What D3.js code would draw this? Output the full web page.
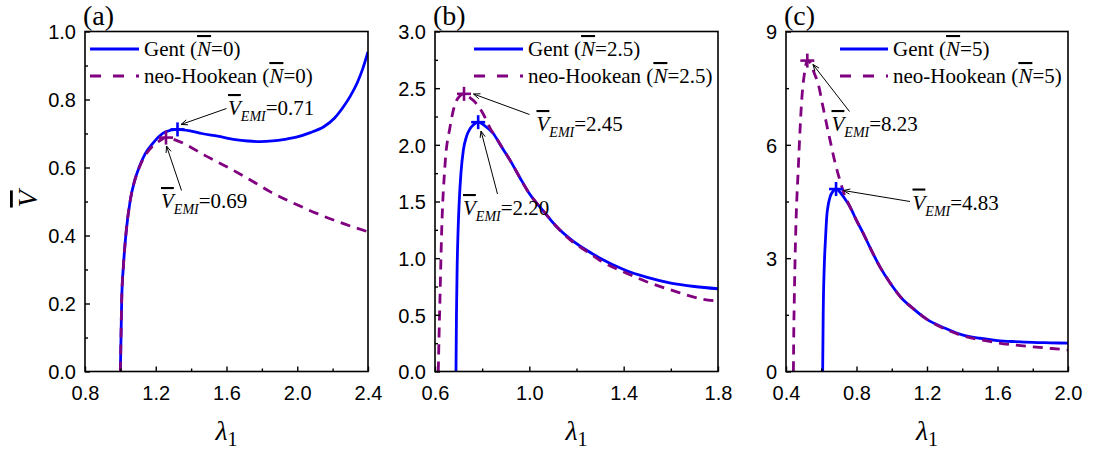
<!DOCTYPE html>
<html><head><meta charset="utf-8">
<script src="https://cdn.jsdelivr.net/npm/d3@7"></script>
<style>body{margin:0;background:#fff}svg{display:block}
.serif{font-family:"Liberation Serif","Times New Roman",Times,"DejaVu Serif","Noto Serif",serif;}
.sans{font-family:"Liberation Sans",Arial,Helvetica,sans-serif;}
</style>
</head><body>
<svg id="chart" width="1093" height="453"></svg>
<script>
// ---------- data ----------
// Panel (a)  N=0
const lamA_gent = [1.0,1.004,1.0075,1.017,1.032,1.056,1.08,1.107,1.14,1.182,1.22,1.257,1.323,1.40,1.46,1.55,1.65,1.72,1.79,1.86,1.93,2.0,2.07,2.15,2.21,2.26,2.30,2.34,2.37,2.40];
const vA_gent   = [0,0.113,0.211,0.309,0.407,0.504,0.56,0.602,0.64,0.670,0.692,0.705,0.712,0.707,0.700,0.692,0.682,0.678,0.676,0.678,0.683,0.690,0.702,0.72,0.745,0.778,0.81,0.85,0.89,0.94];
const lamA_nh   = [1.0,1.004,1.0075,1.017,1.032,1.056,1.08,1.107,1.14,1.18,1.22,1.258,1.30,1.361,1.48,1.62,1.752,1.846,1.98,2.11,2.25,2.40];
const vA_nh     = [0,0.113,0.211,0.309,0.407,0.504,0.56,0.60,0.635,0.662,0.678,0.688,0.683,0.670,0.635,0.597,0.558,0.529,0.495,0.465,0.437,0.411];
// Panel (b)  N=2.5
const lamB_gent = [0.689,0.691,0.694,0.698,0.703,0.71,0.72,0.733,0.748,0.765,0.783,0.81,0.847,0.88,0.918,0.96,1.0,1.066,1.115,1.18,1.243,1.30,1.40,1.50,1.60,1.70,1.80];
const vB_gent   = [0,0.5,0.93,1.25,1.51,1.75,1.95,2.07,2.14,2.18,2.20,2.17,2.10,1.99,1.865,1.71,1.57,1.40,1.28,1.16,1.07,1.00,0.90,0.83,0.78,0.75,0.73];
const lamB_nh   = [0.614,0.617,0.621,0.628,0.642,0.664,0.685,0.705,0.723,0.745,0.777,0.805,0.833,0.86,0.918,1.0,1.066,1.115,1.18,1.243,1.30,1.412,1.50,1.60,1.737,1.80];
const vB_nh     = [0,0.3,0.633,1.22,1.81,2.16,2.36,2.43,2.45,2.42,2.36,2.27,2.15,2.06,1.865,1.57,1.40,1.28,1.15,1.06,0.98,0.868,0.79,0.72,0.638,0.62];
// Panel (c)  N=5
const lamC_gent = [0.608,0.611,0.617,0.624,0.631,0.64,0.65,0.665,0.684,0.70,0.73,0.763,0.80,0.839,0.88,0.933,0.99,1.066,1.10,1.20,1.30,1.40,1.50,1.60,1.70,1.80,1.90,2.0];
const vC_gent   = [0,1.5,2.77,3.5,4.09,4.42,4.62,4.76,4.83,4.78,4.6,4.36,4.0,3.65,3.25,2.77,2.35,1.89,1.75,1.38,1.15,0.97,0.88,0.82,0.79,0.77,0.76,0.75];
const lamC_nh   = [0.442,0.444,0.447,0.455,0.47,0.489,0.505,0.521,0.54,0.56,0.583,0.61,0.65,0.68,0.706,0.73,0.763,0.80,0.839,0.88,0.933,0.99,1.066,1.10,1.20,1.30,1.40,1.50,1.60,1.70,1.784,1.88,1.955,2.0];
const vC_nh     = [0,1.0,1.89,3.65,5.41,7.17,7.9,8.23,8.15,7.9,7.61,7.0,6.12,5.5,5.06,4.7,4.36,4.0,3.65,3.25,2.77,2.35,1.89,1.75,1.38,1.13,0.95,0.84,0.76,0.70,0.66,0.62,0.59,0.57];

const peaksA = [{lam:1.323, v:0.712, s:"gent"},{lam:1.258, v:0.688, s:"nh"}];
const peaksB = [{lam:0.783, v:2.20, s:"gent"},{lam:0.723, v:2.45, s:"nh"}];
const peaksC = [{lam:0.684, v:4.83, s:"gent"},{lam:0.521, v:8.23, s:"nh"}];
const annLabelsA = ["0.71","0.69"], annLabelsB = ["2.20","2.45"], annLabelsC = ["4.83","8.23"];

const nLabels = ["0","2.5","5"];
const panelLetters = ["(a)","(b)","(c)"];
const xTicksA = [0.8,1.2,1.6,2.0,2.4], xMinorA=[1.0,1.4,1.8,2.2];
const yTicksA = [0,0.2,0.4,0.6,0.8,1.0], yMinorA=[0.1,0.3,0.5,0.7,0.9];
const xTicksB = [0.6,1.0,1.4,1.8], xMinorB=[0.8,1.2,1.6];
const yTicksB = [0,0.5,1.0,1.5,2.0,2.5,3.0], yMinorB=[0.25,0.75,1.25,1.75,2.25,2.75];
const xTicksC = [0.4,0.8,1.2,1.6,2.0], xMinorC=[0.6,1.0,1.4,1.8];
const yTicksC = [0,3,6,9], yMinorC=[1.5,4.5,7.5];

// ---------- layout ----------
const BLUE="#0000ff", PURPLE="#800080";
const TOP=31.5, BOTTOM=371.5;
const panels = [
 {x0:85, x1:368, xd:[0.8,2.4], yd:[0,1.0], xt:xTicksA, xm:xMinorA, yt:yTicksA, ym:yMinorA, yf:d3.format(".1f"),
  g:[lamA_gent,vA_gent], n:[lamA_nh,vA_nh], peaks:peaksA, labels:annLabelsA,
  ann:[{tx:228,ty:115,ax:[226.5,108.5],bx:[181,124.5]},{tx:161,ty:208,ax:[181.5,190.5],bx:[166.5,146]}]},
 {x0:435, x1:718, xd:[0.6,1.8], yd:[0,3.0], xt:xTicksB, xm:xMinorB, yt:yTicksB, ym:yMinorB, yf:d3.format(".1f"),
  g:[lamB_gent,vB_gent], n:[lamB_nh,vB_nh], peaks:peaksB, labels:annLabelsB,
  ann:[{tx:463,ty:215,ax:[497.5,194],bx:[481,131]},{tx:536.5,ty:131,ax:[529.5,114.5],bx:[473.5,94]}]},
 {x0:786, x1:1068, xd:[0.4,2.0], yd:[0,9], xt:xTicksC, xm:xMinorC, yt:yTicksC, ym:yMinorC, yf:d3.format("d"),
  g:[lamC_gent,vC_gent], n:[lamC_nh,vC_nh], peaks:peaksC, labels:annLabelsC,
  ann:[{tx:912.5,ty:209.5,ax:[910,201.5],bx:[843.5,190.5]},{tx:831.5,ty:131,ax:[849.5,111.5],bx:[813,64.5]}]}
];

const svg = d3.select("#chart");

function arrow(g, a, b){
  g.append("line").attr("x1",a[0]).attr("y1",a[1]).attr("x2",b[0]).attr("y2",b[1])
   .attr("stroke","#000").attr("stroke-width",1);
  const ang=Math.atan2(b[1]-a[1], b[0]-a[0]), L=7, w=0.38;
  [ang+Math.PI-w, ang+Math.PI+w].forEach(t=>{
    g.append("line").attr("x1",b[0]).attr("y1",b[1])
     .attr("x2",b[0]+L*Math.cos(t)).attr("y2",b[1]+L*Math.sin(t))
     .attr("stroke","#000").attr("stroke-width",1);
  });
}
function vemi(g, x, y, label){
  const t=g.append("text").attr("class","serif").attr("x",x).attr("y",y).style("font-size","21px").attr("fill","#000");
  t.append("tspan").style("font-style","italic").style("text-decoration","overline").text("V");
  t.append("tspan").style("font-style","italic").style("font-size","14px").attr("dy",6).text("EMI");
  t.append("tspan").attr("dy",-6).text("="+label);
}

panels.forEach((p,i)=>{
  const x=d3.scaleLinear().domain(p.xd).range([p.x0,p.x1]);
  const y=d3.scaleLinear().domain(p.yd).range([BOTTOM,TOP]);
  const g=svg.append("g");
  const clipId="clip"+i;
  svg.append("clipPath").attr("id",clipId).append("rect").attr("x",p.x0).attr("y",TOP-2).attr("width",p.x1-p.x0).attr("height",BOTTOM-TOP+2);

  const line=d3.line().x(d=>x(d[0])).y(d=>y(d[1])).curve(d3.curveMonotoneX);
  const gd=d3.zip(p.g[0],p.g[1]), nd=d3.zip(p.n[0],p.n[1]);
  const curves=g.append("g").attr("clip-path",`url(#${clipId})`);
  curves.append("path").datum(gd).attr("d",line).attr("fill","none").attr("stroke",BLUE).attr("stroke-width",2.8);
  curves.append("path").datum(nd).attr("d",line).attr("fill","none").attr("stroke",PURPLE).attr("stroke-width",2.8).attr("stroke-dasharray","10,7");

  p.peaks.forEach(pk=>{
    const cx=x(pk.lam), cy=y(pk.v), c= pk.s==="gent"?BLUE:PURPLE, h=7;
    g.append("line").attr("x1",cx-h).attr("x2",cx+h).attr("y1",cy).attr("y2",cy).attr("stroke",c).attr("stroke-width",2.6);
    g.append("line").attr("x1",cx).attr("x2",cx).attr("y1",cy-h).attr("y2",cy+h).attr("stroke",c).attr("stroke-width",2.6);
  });

  g.append("rect").attr("x",p.x0).attr("y",TOP).attr("width",p.x1-p.x0).attr("height",BOTTOM-TOP)
   .attr("fill","none").attr("stroke","#000").attr("stroke-width",1.6);
  const xAx=d3.axisBottom(x).tickValues(p.xt).tickSize(-5).tickPadding(10).tickFormat(d3.format(".1f"));
  const xg=g.append("g").attr("transform",`translate(0,${BOTTOM})`).call(xAx);
  const xmg=g.append("g").attr("transform",`translate(0,${BOTTOM})`).call(d3.axisBottom(x).tickValues(p.xm).tickSize(-3).tickFormat(""));
  const yAx=d3.axisLeft(y).tickValues(p.yt).tickSize(-5).tickPadding(9).tickFormat(p.yf);
  const yg=g.append("g").attr("transform",`translate(${p.x0},0)`).call(yAx);
  const ymg=g.append("g").attr("transform",`translate(${p.x0},0)`).call(d3.axisLeft(y).tickValues(p.ym).tickSize(-3).tickFormat(""));
  [xg,xmg,yg,ymg].forEach(a=>{
    a.attr("font-family",null).attr("font-size",null);
    a.select(".domain").remove();
    a.selectAll("line").attr("stroke","#000").attr("stroke-width",1.4);
    a.selectAll("text").attr("class","sans").style("font-size","20px").attr("fill","#000");
  });
  xg.selectAll("text").attr("dy","0.9em");
  yg.selectAll("text").attr("dy","0.36em");

  svg.append("text").attr("class","serif").attr("x",p.x0-2).attr("y",25).style("font-size","28px").text(panelLetters[i]);

  const xl=svg.append("text").attr("class","serif").attr("x",(p.x0+p.x1)/2).attr("y",440).attr("text-anchor","middle")
    .style("font-size","28px").style("font-style","italic");
  xl.append("tspan").text("λ");
  xl.append("tspan").style("font-style","normal").style("font-size","20px").attr("dy",6).text("1");

  const lx0=[90,474,840][i], lx1=[139,523,888][i];
  const lg=svg.append("g");
  lg.append("line").attr("x1",lx0).attr("x2",lx1).attr("y1",49).attr("y2",49).attr("stroke",BLUE).attr("stroke-width",2.8);
  lg.append("line").attr("x1",lx0).attr("x2",lx1).attr("y1",76).attr("y2",76).attr("stroke",PURPLE).attr("stroke-width",2.8).attr("stroke-dasharray","11,12");
  [["Gent (",56],["neo-Hookean (",83]].forEach(([lab,yy])=>{
    const t=lg.append("text").attr("class","serif").attr("x",lx1+5).attr("y",yy).style("font-size","21px");
    t.append("tspan").text(lab);
    t.append("tspan").style("font-style","italic").style("text-decoration","overline").text("N");
    t.append("tspan").text("="+nLabels[i]+")");
  });

  p.ann.forEach(a=>arrow(svg.append("g"), a.ax, a.bx));
  p.ann.forEach((a,k)=>vemi(svg.append("g"), a.tx, a.ty, p.labels[k]));
});

svg.append("text").attr("class","serif").attr("transform","translate(37,199) rotate(-90)").attr("text-anchor","middle")
  .style("font-size","28px").style("font-style","italic").style("text-decoration","overline").text("V");
</script>
</body></html>
